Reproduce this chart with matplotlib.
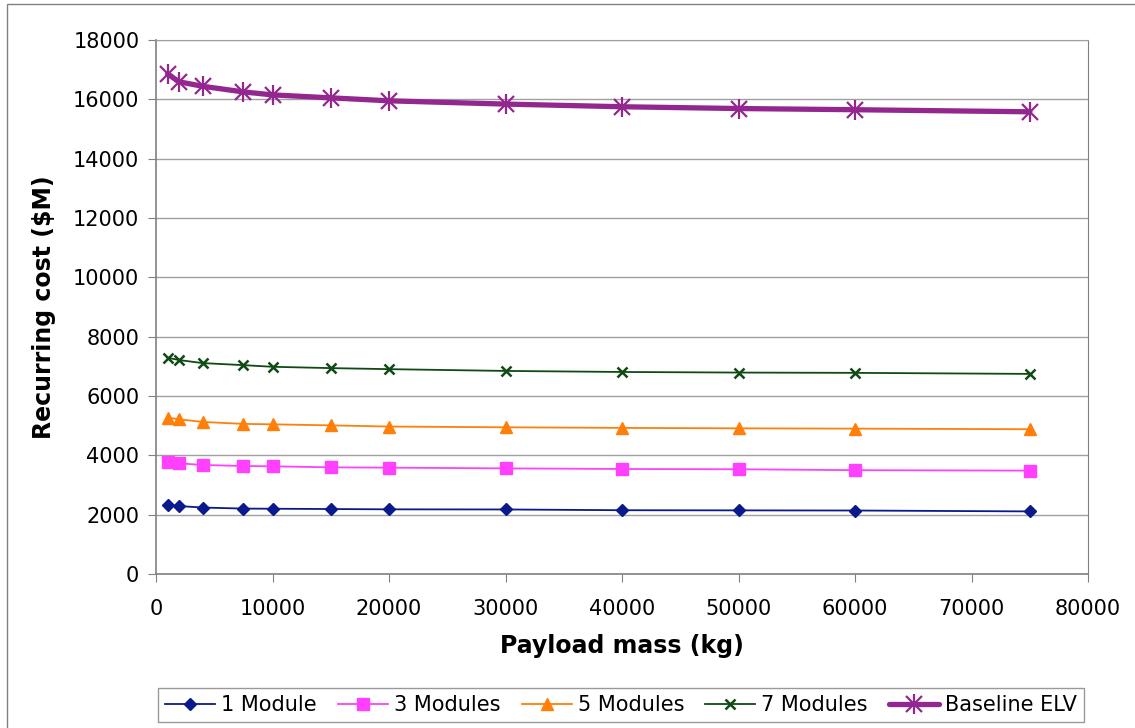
import numpy as np
import matplotlib
matplotlib.use("Agg")
import matplotlib.pyplot as plt
from matplotlib.patches import Rectangle

# Datos
payload = [1000, 2000, 4000, 7500, 10000, 15000, 20000, 30000, 40000, 50000, 60000, 75000]
mod_1 = [2320, 2290, 2240, 2205, 2200, 2190, 2180, 2175, 2150, 2145, 2140, 2110]
mod_3 = [3775, 3730, 3675, 3640, 3630, 3595, 3585, 3560, 3540, 3530, 3500, 3485]
mod_5 = [5270, 5215, 5125, 5060, 5045, 5010, 4970, 4945, 4925, 4910, 4900, 4880]
mod_7 = [7290, 7210, 7110, 7040, 6985, 6940, 6905, 6845, 6810, 6790, 6780, 6745]
baseline = [16850, 16590, 16440, 16250, 16150, 16050, 15950, 15840, 15750, 15690, 15650, 15580]

etiquetas = ["1 Module", "3 Modules", "5 Modules", "7 Modules", "Baseline ELV"]

plt.rcParams['font.family'] = ['DejaVu Sans']

fig = plt.figure(figsize=(11.35, 7.28), dpi=100)
ax = fig.add_axes([156 / 1135, 1 - 574 / 728, (1088 - 156) / 1135, (574 - 40) / 728])

# borde del área del gráfico
fig.patches.append(Rectangle((7 / 1135, -0.1), 1.2, 1 - 4 / 728 + 0.1, transform=fig.transFigure,
                             fill=False, edgecolor='#808080', linewidth=1.0))

l1, = ax.plot(payload, mod_1, color='#0a1a8c', lw=1.3, marker='D', ms=6.5, label=etiquetas[0])
l3, = ax.plot(payload, mod_3, color='#ff40ff', lw=1.3, marker='s', ms=8, label=etiquetas[1])
l5, = ax.plot(payload, mod_5, color='#ff7f0a', lw=1.3, marker='^', ms=9, label=etiquetas[2])
l7, = ax.plot(payload, mod_7, color='#0f4a14', lw=1.3, marker='x', ms=7, mew=1.8, label=etiquetas[3])
lb, = ax.plot(payload, baseline, color='#93278f', lw=3.8, marker='x', ms=12, mew=1.6,
              solid_capstyle='round', label=etiquetas[4])
lbv, = ax.plot(payload, baseline, color='#93278f', lw=0, marker='|', ms=15, mew=1.6)

ax.set_xlim(0, 80000)
ax.set_ylim(0, 18000)
ax.set_xticks(np.arange(0, 80001, 10000))
ax.set_yticks(np.arange(0, 18001, 2000))
ax.grid(axis='y', color='#a0a0a0', lw=1.0)
ax.set_axisbelow(True)

for lado in ['left', 'bottom', 'right', 'top']:
    ax.spines[lado].set_color('#808080')
ax.spines['top'].set_color('#a0a0a0')
ax.spines['left'].set_linewidth(1.2)
ax.spines['bottom'].set_linewidth(1.2)

ax.tick_params(axis='both', direction='out', length=6, color='#808080', labelsize=15, pad=6)
ax.tick_params(axis='x', pad=12)

ax.set_xlabel('Payload mass (kg)', fontsize=17, fontweight='bold', labelpad=11)
ax.set_ylabel('Recurring cost ($M)', fontsize=17, fontweight='bold', labelpad=12)

leg = fig.legend([l1, l3, l5, l7, (lb, lbv)], etiquetas, loc='center',
                 bbox_to_anchor=(621 / 1135, 1 - 705 / 728), ncol=5, fontsize=15,
                 frameon=True, fancybox=False, edgecolor='#808080', handlelength=2.4,
                 handletextpad=0.3, columnspacing=1.0, borderpad=0.35)
leg.get_frame().set_linewidth(1.0)

fig.savefig('out.png', dpi=100)
